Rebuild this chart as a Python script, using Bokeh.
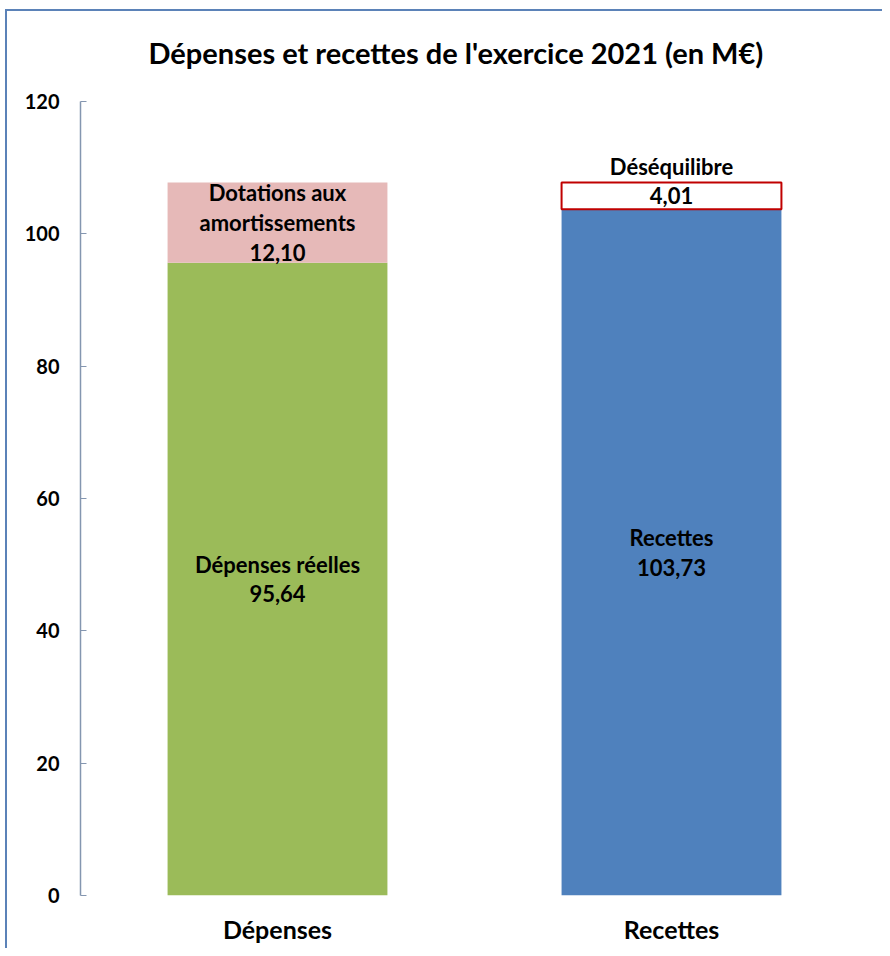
from bokeh.plotting import figure
from bokeh.models import ColumnDataSource, FactorRange, Range1d
from bokeh.core.properties import value
from bokeh.embed import file_html
from bokeh.resources import INLINE

# ---- data ----
categories = ["Dépenses", "Recettes"]
bottom_names = ["Dépenses réelles", "Recettes"]
bottom_values = [95.64, 103.73]
top_names = ["Dotations aux\namortissements", "Déséquilibre"]
top_values = [12.10, 4.01]
y_ticks = [0, 20, 40, 60, 80, 100, 120]
title_text = "Dépenses et recettes de l'exercice 2021 (en M€)"

def fmt(v):
    return f"{v:.2f}".replace(".", ",")

FONT = "Lato"
LBL = "22px"
BORDER = "#5b82b8"

p = figure(x_range=FactorRange(*categories, range_padding=0),
           y_range=Range1d(0, 120),
           width=882, height=948, output_backend="svg", toolbar_location=None,
           min_border_left=80, min_border_right=14, min_border_top=101, min_border_bottom=53)

# chart border (top and left edges of the chart area), painted behind a transparent canvas
p.styles = {
    "background": (f"linear-gradient({BORDER},{BORDER}) 5px 9px / 2px 100% no-repeat, "
                   f"linear-gradient({BORDER},{BORDER}) 5px 9px / 100% 2px no-repeat, white"),
}
p.border_fill_color = None
p.background_fill_color = None

p.title.text = title_text
p.title.align = "left"
p.title.offset = 68
p.title.text_font = FONT
p.title.text_font_size = "29px"
p.title.text_font_style = "bold"
p.title.text_color = "#000000"
p.title.standoff = 64

p.outline_line_color = None
p.xgrid.grid_line_color = None
p.ygrid.grid_line_color = None

# bottom segments
src_bottom = ColumnDataSource(dict(
    x=categories, top=bottom_values, color=["#9bbb59", "#4f81bd"],
    mid=[v / 2 for v in bottom_values],
    label=[f"{n}\n{fmt(v)}" for n, v in zip(bottom_names, bottom_values)],
))
p.vbar(x="x", top="top", bottom=0, width=0.558, fill_color="color", line_color=None, source=src_bottom)

# dotations (stacked on dépenses)
p.vbar(x=[categories[0]], bottom=[bottom_values[0]], top=[bottom_values[0] + top_values[0]],
       width=0.558, fill_color="#e6b9b8", line_color=None)
# déséquilibre (stacked on recettes)
p.vbar(x=[categories[1]], bottom=[bottom_values[1]], top=[bottom_values[1] + top_values[1]],
       width=0.558, fill_color="white", line_color="#c00000", line_width=2)

p.text(x="x", y="mid", text="label", source=src_bottom, text_align="center", text_baseline="middle",
       text_font=value(FONT), text_font_style="bold", text_font_size=LBL, text_color="#000000",
       text_line_height=1.1)

# dotations label
p.text(x=[categories[0]], y=[bottom_values[0] + top_values[0] / 2],
       text=[f"{top_names[0]}\n{fmt(top_values[0])}"], text_align="center", text_baseline="middle",
       text_font=value(FONT), text_font_style="bold", text_font_size=LBL, text_color="#000000",
       text_line_height=1.1)
# déséquilibre value in box
p.text(x=[categories[1]], y=[bottom_values[1] + top_values[1] / 2],
       text=[fmt(top_values[1])], text_align="center", text_baseline="middle",
       text_font=value(FONT), text_font_style="bold", text_font_size=LBL, text_color="#000000")
# déséquilibre name above box
p.text(x=[categories[1]], y=[bottom_values[1] + top_values[1]],
       text=[top_names[1]], text_align="center", text_baseline="bottom", y_offset=-3,
       text_font=value(FONT), text_font_style="bold", text_font_size=LBL, text_color="#000000")

# axes
p.yaxis.ticker = y_ticks
p.yaxis.axis_line_color = "#8496b0"
p.yaxis.axis_line_width = 1.5
p.yaxis.major_tick_line_color = "#8496b0"
p.yaxis.major_tick_in = 6
p.yaxis.major_tick_out = 0
p.yaxis.minor_tick_line_color = None
p.yaxis.major_label_standoff = 21
p.yaxis.major_label_text_font = FONT
p.yaxis.major_label_text_font_style = "bold"
p.yaxis.major_label_text_font_size = "20px"
p.yaxis.major_label_text_color = "#000000"

p.xaxis.axis_line_color = None
p.xaxis.major_tick_line_color = None
p.xaxis.minor_tick_line_color = None
p.xaxis.major_label_standoff = 12
p.xaxis.major_label_text_font = FONT
p.xaxis.major_label_text_font_style = "bold"
p.xaxis.major_label_text_font_size = "25px"
p.xaxis.major_label_text_color = "#000000"

open("out.html", "w").write(file_html(p, INLINE))
